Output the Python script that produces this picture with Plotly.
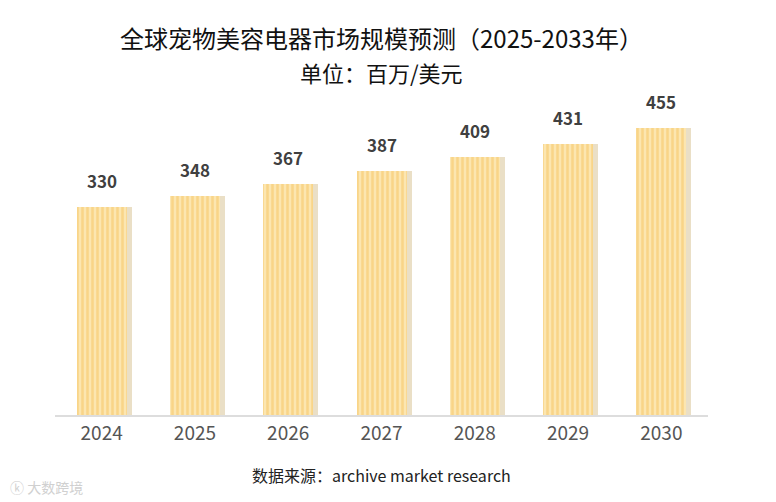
import plotly.graph_objects as go

years = ["2024", "2025", "2026", "2027", "2028", "2029", "2030"]
market_size = [330, 348, 367, 387, 409, 431, 455]

title_line1 = "全球宠物美容电器市场规模预测（2025-2033年）"
title_line2 = "单位：百万/美元"
source_note = "数据来源：archive market research"
watermark = "大数跨境"

fig = go.Figure()

# thin shadow strip on the right of each bar
fig.add_trace(go.Bar(
    x=years,
    y=market_size,
    width=0.055,
    offset=0.268,
    marker=dict(color="#EADFC6", line=dict(width=0)),
    hoverinfo="skip",
    showlegend=False,
))

# striped bars
fig.add_trace(go.Bar(
    x=years,
    y=market_size,
    width=0.536,
    offset=-0.268,
    marker=dict(
        color="#FCE6B0",
        line=dict(width=0),
        pattern=dict(
            shape="|",
            fgcolor="#F6C35E",
            bgcolor="#FCE6B0",
            size=5,
            solidity=0.5,
        ),
    ),
    showlegend=False,
))

# value labels sit well above the bars (x given as category index)
value_labels = [
    dict(
        x=i, y=v, xref="x", yref="y",
        text="<b>%d</b>" % v,
        showarrow=False,
        yanchor="bottom",
        yshift=12,
        font=dict(size=17, color="#404040"),
    )
    for i, v in enumerate(market_size)
]

fig.update_layout(
    width=776,
    height=502,
    paper_bgcolor="white",
    plot_bgcolor="white",
    margin=dict(l=47, r=76, t=82, b=95),
    font=dict(family="Noto Sans CJK SC", color="#222"),
    bargap=0,
    barmode="overlay",
    xaxis=dict(
        type="category",
        range=[-0.5, len(years) - 0.5],
        showline=True,
        linecolor="#DDDDDD",
        linewidth=1.5,
        ticks="",
        tickfont=dict(size=19, color="#555"),
        showgrid=False,
    ),
    yaxis=dict(
        visible=False,
        range=[0, 516],
    ),
    annotations=value_labels + [
        dict(
            text=title_line1,
            xref="paper", yref="paper",
            x=0.5, y=1.163,
            xanchor="center", yanchor="middle",
            showarrow=False,
            font=dict(size=24, color="#111"),
        ),
        dict(
            text=title_line2,
            xref="paper", yref="paper",
            x=0.5, y=1.055,
            xanchor="center", yanchor="middle",
            showarrow=False,
            font=dict(size=22, color="#111"),
        ),
        dict(
            text=source_note,
            xref="paper", yref="paper",
            x=0.5, y=-0.185,
            xanchor="center", yanchor="middle",
            showarrow=False,
            font=dict(size=16, color="#222"),
        ),
        dict(
            text="ⓚ " + watermark,
            xref="paper", yref="paper",
            x=-0.072, y=-0.222,
            xanchor="left", yanchor="middle",
            showarrow=False,
            font=dict(size=14, color="#D0D0D0"),
        ),
    ],
)

fig.write_html("out.html")
